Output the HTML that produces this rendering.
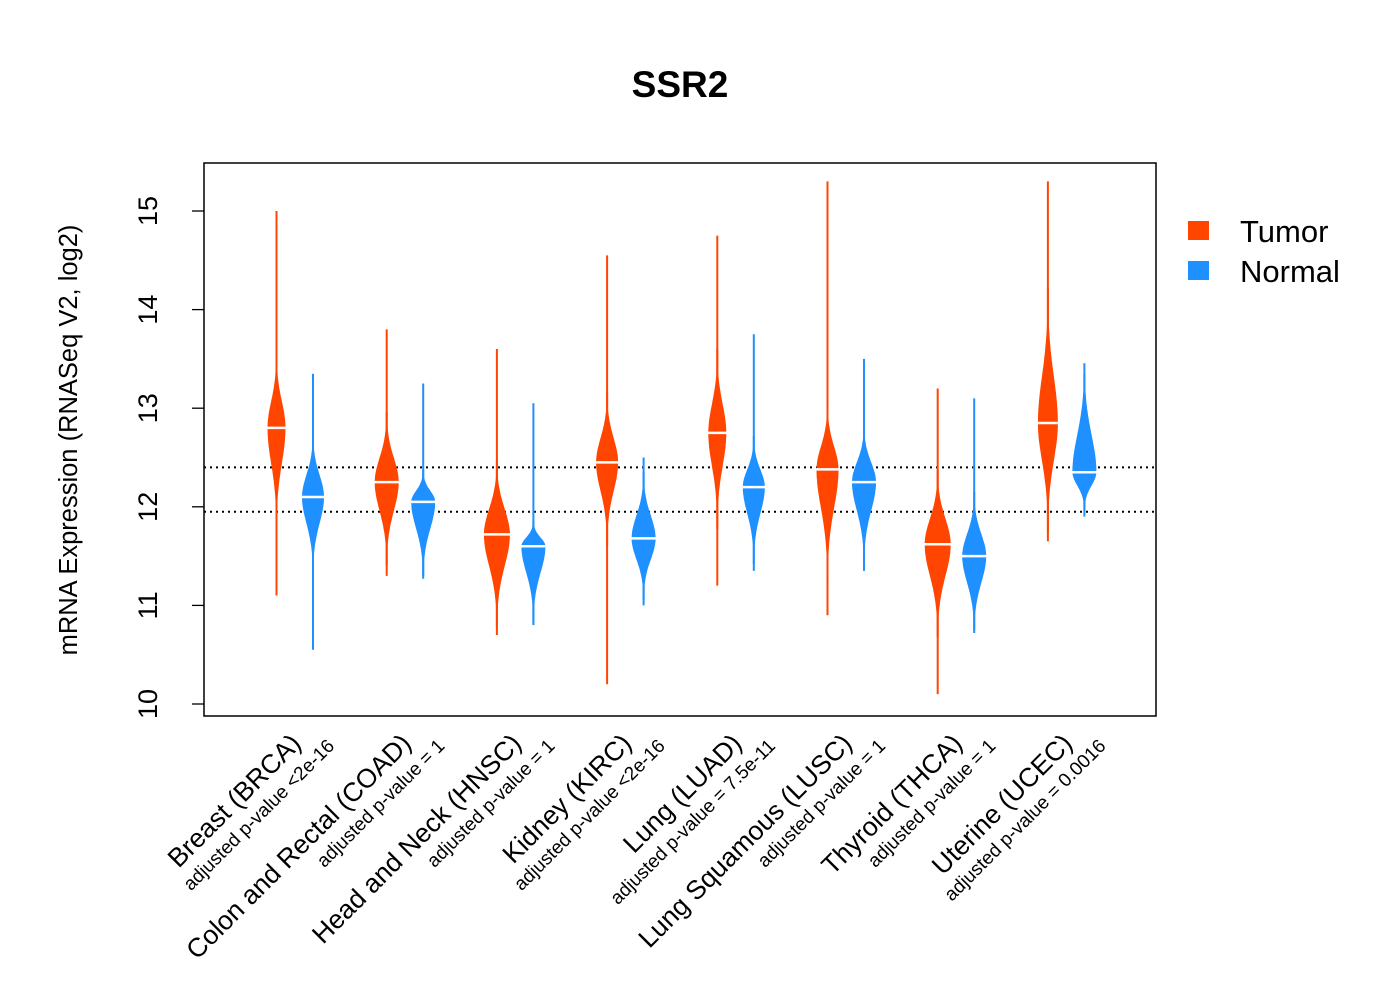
<!DOCTYPE html>
<html><head><meta charset="utf-8"><style>
html,body{margin:0;padding:0;background:#fff;}
svg{display:block;font-family:"Liberation Sans",Arial,sans-serif;}
</style></head><body>
<svg id="chart" width="1400" height="1000" xmlns="http://www.w3.org/2000/svg">
<rect width="1400" height="1000" fill="#fff"/>
<text x="680" y="97" text-anchor="middle" font-size="37" font-weight="bold">SSR2</text>
<rect x="204" y="163" width="952" height="553" fill="none" stroke="#000" stroke-width="1.5"/>
<text transform="translate(77,440) rotate(-90)" text-anchor="middle" font-size="25.5">mRNA Expression (RNASeq V2, log2)</text>
<g id="yaxis"></g>
<g id="refs"></g>
<g id="violins"></g>
<g id="xlabels"></g>
<g>
<rect x="1188" y="221" width="21" height="19" fill="#FF4500"/>
<text x="1240" y="242" font-size="31">Tumor</text>
<rect x="1188" y="261" width="21" height="19" fill="#1E90FF"/>
<text x="1240" y="282" font-size="31">Normal</text>
</g>
</svg>
<script>
const categories=["Breast (BRCA)","Colon and Rectal (COAD)","Head and Neck (HNSC)","Kidney (KIRC)","Lung (LUAD)","Lung Squamous (LUSC)","Thyroid (THCA)","Uterine (UCEC)"];
const pvalues=["adjusted p-value <2e-16","adjusted p-value = 1","adjusted p-value = 1","adjusted p-value <2e-16","adjusted p-value = 7.5e-11","adjusted p-value = 1","adjusted p-value = 1","adjusted p-value = 0.0016"];
const tumorMedian=[12.8,12.25,11.72,12.45,12.75,12.38,11.62,12.85];
const tumorBodyLo=[12.0,11.6,11.0,11.8,12.0,11.5,10.9,12.0];
const tumorBodyHi=[13.4,12.8,12.3,13.0,13.4,12.9,12.2,13.9];
const tumorMin=[11.1,11.3,10.7,10.2,11.2,10.9,10.1,11.65];
const tumorMax=[15.0,13.8,13.6,14.55,14.75,15.3,13.2,15.3];
const tumorWidth=[9,12,13,11,9,11,13,10];
const normalMedian=[12.1,12.05,11.6,11.68,12.2,12.25,11.5,12.35];
const normalBodyLo=[11.5,11.45,11.0,11.2,11.6,11.6,10.9,12.05];
const normalBodyHi=[12.6,12.3,11.8,12.2,12.6,12.7,12.0,13.2];
const normalMin=[10.55,11.3,10.8,11.0,11.35,11.35,10.75,11.9];
const normalMax=[13.35,13.25,13.05,12.5,13.75,13.5,13.1,13.35];
const normalWidth=[11,12,12,12,11,12,12,12];
const yTicks=[10,11,12,13,14,15];
const refLines=[12.4,11.95];

const NS="http://www.w3.org/2000/svg";
const yScale=v=>704-(v-10)*98.6;
const xTumor=i=>276.5+i*110.2;
const xNormal=i=>313+i*110.2;
function mk(tag,attrs,parent){const e=document.createElementNS(NS,tag);for(const k in attrs)e.setAttribute(k,attrs[k]);parent.appendChild(e);return e;}

const ya=document.getElementById('yaxis');
yTicks.forEach(t=>{
  const y=yScale(t);
  const l=mk('line',{x1:192,x2:204,y1:y,y2:y,stroke:'#000','stroke-width':1.3},ya);
  
  
  const tx=mk('text',{transform:`translate(157,${y}) rotate(-90)`,'text-anchor':'middle','font-size':27},ya);
  tx.textContent=t;
  
  
});
const rg=document.getElementById('refs');
refLines.forEach(v=>{
  const l=mk('line',{x1:204,x2:1156,y1:yScale(v),y2:yScale(v),stroke:'#000','stroke-width':2,'stroke-dasharray':'2,4'},rg);
  
  
});

function violin(g,cx,med,blo,bhi,mn,mx,hw,col,name){
  const grp=mk('g',{},g);
  
  
  mk('line',{x1:cx,x2:cx,y1:yScale(mn),y2:yScale(mx),stroke:col,'stroke-width':2},grp);
  const sUp=(bhi-med)/1.6, sDn=(med-blo)/1.6;
  const right=[],left=[];
  const N=60;
  for(let k=0;k<=N;k++){
    const v=blo-(med-blo)*0.3+(bhi-blo+(med-blo)*0.3+(bhi-med)*0.3)*k/N;
    const s=v>=med?sUp:sDn;
    const w=Math.max(1,hw*Math.exp(-Math.pow((v-med)/s,2)));
    right.push([cx+w,yScale(v)]);left.push([cx-w,yScale(v)]);
  }
  const pts=right.concat(left.reverse()).map(p=>p[0].toFixed(1)+','+p[1].toFixed(1)).join(' ');
  mk('polygon',{points:pts,fill:col},grp);
  mk('line',{x1:cx-hw-1,x2:cx+hw+1,y1:yScale(med),y2:yScale(med),stroke:'#fff','stroke-width':2.5},grp);
}
const vg=document.getElementById('violins');
categories.forEach((c,i)=>{
  violin(vg,xTumor(i),tumorMedian[i],tumorBodyLo[i],tumorBodyHi[i],tumorMin[i],tumorMax[i],tumorWidth[i],'#FF4500','tumor-violin');
  violin(vg,xNormal(i),normalMedian[i],normalBodyLo[i],normalBodyHi[i],normalMin[i],normalMax[i],normalWidth[i],'#1E90FF','normal-violin');
});
const xl=document.getElementById('xlabels');
categories.forEach((c,i)=>{
  const x=xTumor(i);
  const t=mk('text',{transform:`translate(${x+26},${745}) rotate(-45)`,'text-anchor':'end','font-size':26.5},xl);
  t.textContent=c;
  
  
  const p=mk('text',{transform:`translate(${x+59},${747}) rotate(-45)`,'text-anchor':'end','font-size':19},xl);
  p.textContent=pvalues[i];
  
  
});
</script>
</body></html>
